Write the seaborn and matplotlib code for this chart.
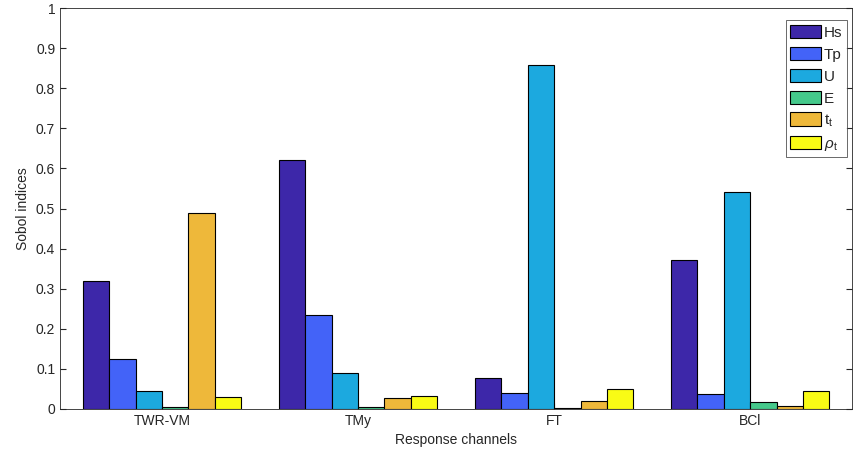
import matplotlib
matplotlib.use("Agg")
import matplotlib.pyplot as plt
import seaborn as sns
import pandas as pd

channels = ["TWR-VM", "TMy", "FT", "BCl"]
params = ["Hs", "Tp", "U", "E", r"$\mathrm{t_t}$", r"$\rho_\mathrm{t}$"]
hs = [0.32, 0.62, 0.077, 0.372]
tp = [0.125, 0.234, 0.040, 0.038]
u = [0.045, 0.090, 0.858, 0.541]
e = [0.005, 0.005, 0.002, 0.017]
tt = [0.490, 0.027, 0.020, 0.007]
rho = [0.030, 0.033, 0.050, 0.045]
colors = ["#3D27A9", "#4363F8", "#1CA9DF", "#45C98B", "#EEB83A", "#F9FB15"]

series = [hs, tp, u, e, tt, rho]
rows = []
for p, vals in zip(params, series):
    for c, v in zip(channels, vals):
        rows.append({"channel": c, "param": p, "value": v})
df = pd.DataFrame(rows)

sns.set_style("white")
plt.rcParams["font.family"] = ["Liberation Sans", "DejaVu Sans"]
plt.rcParams["mathtext.fontset"] = "custom"
plt.rcParams["mathtext.rm"] = "Liberation Sans"
plt.rcParams["mathtext.it"] = "Liberation Sans:italic"
fig = plt.figure(figsize=(8.54, 4.61), dpi=100)
ax = fig.add_axes([0.0703, 0.1128, 0.9274, 0.8698])
sns.barplot(data=df, x="channel", y="value", hue="param", palette=colors,
            width=0.81, edgecolor="black", linewidth=0.8, ax=ax, saturation=1)
ax.set_ylim(0, 1)
ax.set_xlim(-0.52, 3.52)
ax.set_yticks([i / 10 for i in range(11)])
ax.set_yticklabels(["0", "0.1", "0.2", "0.3", "0.4", "0.5", "0.6", "0.7", "0.8", "0.9", "1"])
ax.set_xlabel("Response channels", fontsize=10, color="#262626")
ax.set_ylabel("Sobol indices", fontsize=10, color="#262626")
ax.tick_params(direction="in", length=4, labelsize=10, colors="#262626",
               top=True, right=True, bottom=True, left=True)
ax.tick_params(axis="x", which="both", top=False)
for s in ax.spines.values():
    s.set_color("#262626")
    s.set_linewidth(0.6)
leg = ax.legend(loc="upper right", bbox_to_anchor=(0.9975, 0.9775), fontsize=11,
                frameon=True, fancybox=False, edgecolor="#262626",
                handlelength=2.0, handleheight=1.0, handletextpad=0.2,
                borderpad=0.3, labelspacing=0.45, borderaxespad=0.2)
leg.get_frame().set_linewidth(0.6)
fig.savefig("out.png", dpi=100)
